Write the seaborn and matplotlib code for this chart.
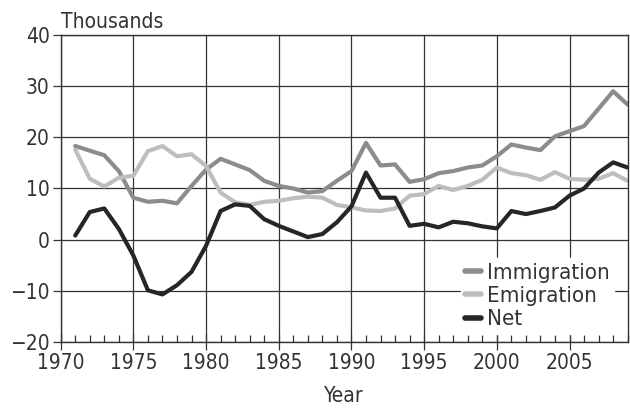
import numpy as np
import pandas as pd
import matplotlib
matplotlib.use('Agg')
import matplotlib.pyplot as plt
from matplotlib.ticker import MultipleLocator
import seaborn as sns

years = list(range(1971, 2010))

immigration = [18.3, 17.4, 16.5, 13.4, 8.2, 7.4, 7.6, 7.1, 10.5, 13.7,
               15.8, 14.7, 13.6, 11.5, 10.5, 10.0, 9.2, 9.5, 11.5, 13.4,
               18.9, 14.5, 14.7, 11.3, 11.8, 13.0, 13.4, 14.1, 14.5, 16.3,
               18.6, 18.0, 17.5, 20.2, 21.2, 22.2, 25.6, 29.0, 26.4]

emigration = [17.6, 11.9, 10.4, 12.1, 12.5, 17.3, 18.3, 16.3, 16.7, 14.4,
              9.2, 7.3, 6.8, 7.4, 7.6, 8.1, 8.4, 8.2, 6.8, 6.3,
              5.7, 5.6, 6.1, 8.6, 8.9, 10.5, 9.7, 10.5, 11.7, 14.1,
              13.0, 12.6, 11.7, 13.2, 11.9, 11.7, 11.9, 13.0, 11.5]

net = [0.8, 5.4, 6.1, 2.1, -3.1, -9.9, -10.7, -8.9, -6.3, -1.2,
       5.6, 6.9, 6.6, 4.0, 2.7, 1.6, 0.5, 1.1, 3.4, 6.5,
       13.1, 8.2, 8.2, 2.7, 3.1, 2.4, 3.5, 3.2, 2.6, 2.2,
       5.6, 5.0, 5.6, 6.3, 8.6, 10.0, 13.1, 15.1, 14.1]

series_names = ['Immigration', 'Emigration', 'Net']
series_colors = ['#8c8c8c', '#bebebe', '#262626']

x_ticks = [1970, 1975, 1980, 1985, 1990, 1995, 2000, 2005]
y_ticks = [-20, -10, 0, 10, 20, 30, 40]

df = pd.DataFrame({
    'Year': years * 3,
    'Value': immigration + emigration + net,
    'Series': np.repeat(series_names, len(years)),
})

sns.set_theme(style='white')
plt.rcParams['font.family'] = ['DejaVu Sans']
plt.rcParams['font.stretch'] = 'condensed'

fig = plt.figure(figsize=(6.3, 4.08), dpi=100)
ax = fig.add_axes([0.0963, 0.1618, 0.9, 0.7524])

sns.lineplot(data=df, x='Year', y='Value', hue='Series',
             hue_order=series_names, palette=series_colors,
             linewidth=3.0, ax=ax)

ax.set_xlim(1970, 2009)
ax.set_ylim(-20, 40)
ax.set_xticks(x_ticks)
ax.set_yticks(y_ticks)
ax.set_yticklabels([str(v).replace('-', '\u2212') for v in y_ticks])
ax.xaxis.set_minor_locator(MultipleLocator(1))
ax.grid(True, which='major', color='#333333', linewidth=0.9)
ax.set_axisbelow(True)

for s in ax.spines.values():
    s.set_visible(True)
    s.set_color('#333333')
    s.set_linewidth(1.0)

ax.tick_params(axis='y', which='major', direction='out', length=6, left=True,
               width=0.9, color='#333333', labelsize=15, labelcolor='#333333', pad=2)
ax.tick_params(axis='x', which='major', direction='inout', length=12, bottom=True,
               width=0.9, color='#333333', labelsize=15, labelcolor='#333333', pad=2)
ax.tick_params(axis='x', which='minor', direction='in', length=5,
               width=0.9, color='#333333', bottom=True)

ax.set_xlabel('Year', fontsize=15, color='#333333', labelpad=9)
ax.set_ylabel('')
ax.text(0.0, 1.01, 'Thousands', transform=ax.transAxes, fontsize=15,
        color='#333333', ha='left', va='bottom')

leg = ax.legend(loc='lower right', bbox_to_anchor=(0.995, -0.01),
                frameon=True, fontsize=16, handlelength=0.7,
                handletextpad=0.25, labelspacing=0.15, borderpad=0.2)
leg.get_frame().set_facecolor('white')
leg.get_frame().set_edgecolor('white')
leg.get_frame().set_alpha(1.0)
for t in leg.get_texts():
    t.set_color('#333333')
for h in leg.get_lines():
    h.set_linewidth(4)

fig.savefig('out.png', dpi=100)
